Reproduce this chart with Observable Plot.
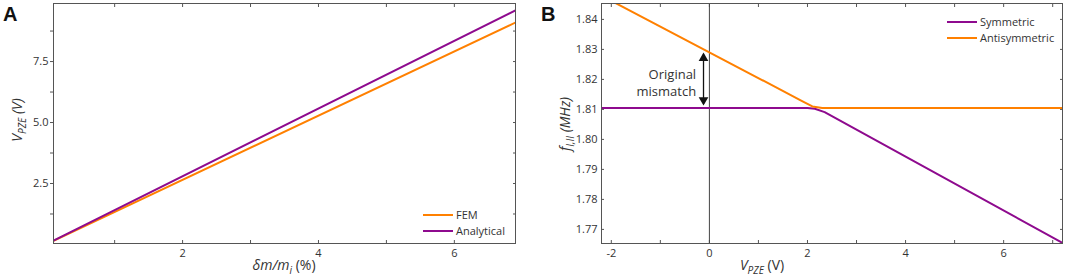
<!DOCTYPE html>
<html><head><meta charset="utf-8">
<script src="https://cdn.jsdelivr.net/npm/d3@7"></script>
<script src="https://cdn.jsdelivr.net/npm/@observablehq/plot@0.6"></script>
<style>
body{margin:0;background:#fff;}
#wrap{position:relative;width:1065px;height:277px;overflow:hidden;}
#wrap svg{position:absolute;top:0;}
</style></head><body><div id="wrap"></div>
<script>
// ---------- Panel A data ----------
const massRatio = [0.1, 6.9];            // δm/m_i (%)
const vFEM = [0.15, 9.1];                // V_PZE (V), FEM
const vAnalytical = [0.16, 9.6];         // V_PZE (V), analytical
const aXTicks = [1, 2, 3, 4, 5, 6];
const aXLabels = [2, 4, 6];
const aYTicks = [1.25, 2.5, 3.75, 5, 6.25, 7.5, 8.75];
const aYLabels = [2.5, 5, 7.5];
const aSeries = ["FEM", "Analytical"];

// ---------- Panel B data ----------
const vSym = [-2.2, 2.0, 2.15, 2.35, 7.2];
const fSym = [1.8105, 1.8105, 1.8102, 1.8091, 1.7655];
const vAnti = [-2.2, 1.9, 2.1, 2.3, 7.2];
const fAnti = [1.8479, 1.8127, 1.8110, 1.8105, 1.8105];
const bXTicks = [-2, -1, 0, 1, 2, 3, 4, 5, 6, 7];
const bXLabels = [-2, 0, 2, 4, 6];
const bYTicks = [1.77, 1.78, 1.79, 1.80, 1.81, 1.82, 1.83, 1.84];
const bSeries = ["Symmetric", "Antisymmetric"];
const arrowX = [-0.12];
const arrowTop = [1.8284];
const arrowBottom = [1.8118];
const noteX = [-0.27];
const noteY = [1.8192];
const noteText = ["Original\nmismatch"];

const ORANGE = "#ff8000", PURPLE = "#8e0a8e";
const FONT = "'Open Sans', sans-serif";
const rows = (xs, ys) => xs.map((x, i) => ({x, y: ys[i]}));

const wrap = document.getElementById("wrap");

// ---------- Panel A ----------
const plotA = Plot.plot({
  width: 530, height: 277,
  marginLeft: 53, marginRight: 15, marginTop: 3, marginBottom: 34,
  style: {fontFamily: FONT, fontSize: "11px", color: "#333", background: "transparent", overflow: "visible"},
  x: {domain: [0.1, 6.9]},
  y: {domain: [0.04, 9.88]},
  marks: [
    Plot.axisX({anchor: "bottom", ticks: aXTicks, tickSize: -3, tickPadding: 9, stroke: "#555",
      tickFormat: d => aXLabels.includes(d) ? String(d) : "", label: null}),
    Plot.axisX({anchor: "top", ticks: aXTicks, tickSize: -3, stroke: "#555", tickFormat: () => "", label: null}),
    Plot.axisY({anchor: "left", ticks: aYTicks, tickSize: 3, tickPadding: 2, stroke: "#555",
      tickFormat: d => aYLabels.includes(d) ? d.toFixed(1) : "", label: null}),
    Plot.axisY({anchor: "right", ticks: aYTicks, tickSize: -3, stroke: "#555", tickFormat: () => "", label: null}),
    Plot.line(rows(massRatio, vFEM), {x: "x", y: "y", stroke: ORANGE, strokeWidth: 2, clip: true}),
    Plot.line(rows(massRatio, vAnalytical), {x: "x", y: "y", stroke: PURPLE, strokeWidth: 2, clip: true}),
    Plot.frame({stroke: "#555"})
  ]
});
plotA.style.left = "0px";
wrap.appendChild(plotA);

// ---------- Panel B ----------
const plotB = Plot.plot({
  width: 535, height: 277,
  marginLeft: 71, marginRight: 3, marginTop: 3, marginBottom: 34,
  style: {fontFamily: FONT, fontSize: "11px", color: "#333", background: "transparent", overflow: "visible"},
  x: {domain: [-2.2, 7.2]},
  y: {domain: [1.7653, 1.8453]},
  marks: [
    Plot.axisX({anchor: "bottom", ticks: bXTicks, tickSize: -3, tickPadding: 9, stroke: "#555",
      tickFormat: d => bXLabels.includes(d) ? String(d).replace("\u2212", "-") : "", label: null}),
    Plot.axisX({anchor: "top", ticks: bXTicks, tickSize: -3, stroke: "#555", tickFormat: () => "", label: null}),
    Plot.axisY({anchor: "left", ticks: bYTicks, tickSize: -3, tickPadding: 7, stroke: "#555",
      tickFormat: d => d.toFixed(2), label: null}),
    Plot.axisY({anchor: "right", ticks: bYTicks, tickSize: -3, stroke: "#555", tickFormat: () => "", label: null}),
    Plot.ruleX([0], {stroke: "#444", strokeWidth: 1}),
    Plot.line(rows(vSym, fSym), {x: "x", y: "y", stroke: PURPLE, strokeWidth: 2, clip: true}),
    Plot.line(rows(vAnti, fAnti), {x: "x", y: "y", stroke: ORANGE, strokeWidth: 2, clip: true}),
    Plot.link(arrowX.map((x, i) => ({x, y1: arrowBottom[i], y2: arrowTop[i]})),
      {x1: "x", x2: "x", y1: "y1", y2: "y2", stroke: "#111", strokeWidth: 1.3, insetTop: 4}),
    Plot.dot(arrowX.map((x, i) => ({x, y: arrowTop[i]})),
      {x: "x", y: "y", symbol: "triangle", r: 3.6, fill: "#111", stroke: null, dy: 4}),
    Plot.dot(arrowX.map((x, i) => ({x, y: arrowBottom[i]})),
      {x: "x", y: "y", symbol: "triangle", r: 3.6, fill: "#111", stroke: null, dy: -4, rotate: 180}),
    Plot.text(noteX.map((x, i) => ({x, y: noteY[i], t: noteText[i]})),
      {x: "x", y: "y", text: "t", textAnchor: "end", fontSize: 13, fill: "#333", lineHeight: 1.3}),
    Plot.frame({stroke: "#555"})
  ]
});
plotB.style.left = "530px";
wrap.appendChild(plotB);

// ---------- Rich-text labels, panel letters, legends ----------
function richText(svg, x, y, parts, {rotate = 0, size = 14} = {}) {
  const t = d3.select(svg).append("text")
    .attr("transform", `translate(${x},${y}) rotate(${rotate})`)
    .attr("text-anchor", "middle")
    .attr("font-family", FONT)
    .attr("font-size", size)
    .attr("fill", "#333");
  let shift = 0;
  for (const [str, opt] of parts) {
    const o = opt || {};
    const target = o.sub ? 4 : 0;
    t.append("tspan")
      .attr("dy", target - shift)
      .attr("font-size", o.sub ? size * 0.72 : size)
      .attr("font-style", o.italic ? "italic" : "normal")
      .text(str);
    shift = target;
  }
}
const I = {italic: true}, IS = {italic: true, sub: true};
richText(plotA, 22, 120, [["V", I], ["PZE", IS], [" (V)", I]], {rotate: -90});
richText(plotA, 284, 270, [["\u03b4m/m", I], ["i", IS], [" (%)", null]]);
richText(plotB, 232, 270, [["V", I], ["PZE", IS], [" (V)", null]]);
richText(plotB, 40, 124, [["f", I], ["I,II", IS], [" (MHz)", I]], {rotate: -90});

function letter(svg, x, s) {
  d3.select(svg).append("text").attr("x", x).attr("y", 21)
    .attr("text-anchor", "start")
    .attr("font-family", "'Liberation Sans', Arial, sans-serif")
    .attr("font-weight", "bold").attr("font-size", 20).attr("fill", "#111").text(s);
}
letter(plotA, 3, "A");
letter(plotB, 11, "B");

function legend(svg, x0, y0, names, colors) {
  const g = d3.select(svg).append("g");
  names.forEach((n, i) => {
    const y = y0 + i * 16;
    g.append("line").attr("x1", x0).attr("x2", x0 + 30).attr("y1", y).attr("y2", y)
      .attr("stroke", colors[i]).attr("stroke-width", 2);
    g.append("text").attr("x", x0 + 33).attr("y", y + 4)
      .attr("text-anchor", "start")
      .attr("font-family", FONT).attr("font-size", 11).attr("fill", "#333").text(n);
  });
}
legend(plotA, 423, 215, aSeries, [ORANGE, PURPLE]);
legend(plotB, 417, 22, bSeries, [PURPLE, ORANGE]);
</script>
</body></html>
